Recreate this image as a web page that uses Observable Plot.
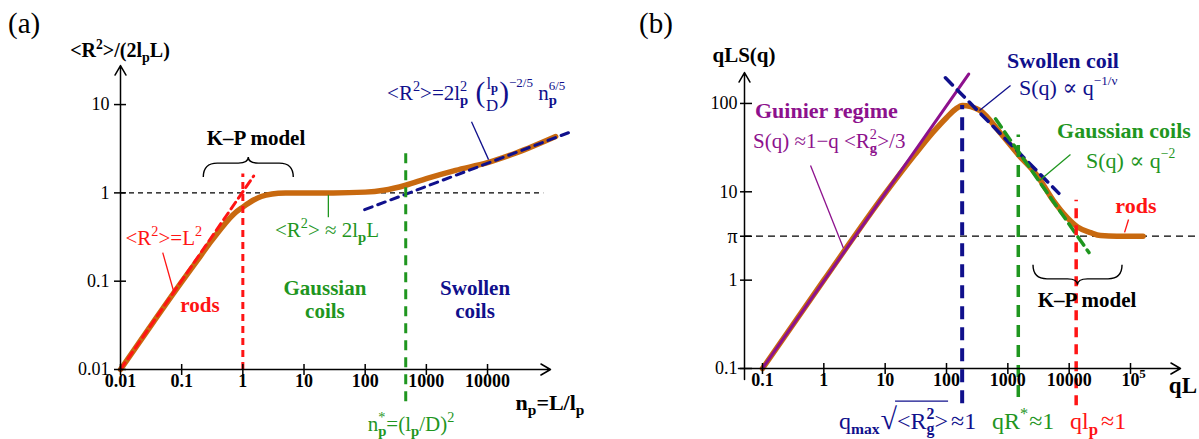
<!DOCTYPE html>
<html>
<head>
<meta charset="utf-8">
<script src="https://cdn.jsdelivr.net/npm/d3@7"></script>
<script src="https://cdn.jsdelivr.net/npm/@observablehq/plot@0.6"></script>
<style>
  body { margin: 0; background: #fff; }
  #fig { position: relative; width: 1199px; height: 439px; overflow: hidden; background: #fff; }
  #fig svg { position: absolute; top: 0; max-width: none; }
  #fig svg text { white-space: pre; font-family: "Liberation Serif", "Times New Roman", "DejaVu Serif", serif !important; }
</style>
</head>
<body>
<div id="fig"></div>
<script>
// ---------- (a) mean-square end-to-end distance vs contour length ----------
const nA   = [0.01, 0.03, 0.1, 0.2, 0.3, 0.5, 0.7, 1, 1.5, 2, 3, 5, 10, 30, 100, 200, 460, 1000, 3000, 10000, 30000, 130000];
const r2A  = [0.01, 0.03, 0.098, 0.19, 0.28, 0.44, 0.57, 0.69, 0.83, 0.91, 0.97, 0.995, 1.0, 1.0, 1.02, 1.07, 1.22, 1.45, 1.8, 2.2, 2.85, 4.35];
const rodN = [0.01, 1.5];          // <R²> = L²
const rodR2 = [0.01, 1.55];
const swN  = [98, 210000];         // <R²> ∝ n_p^{6/5}
const swR2 = [0.645, 4.8];
const plateauA = 1;                // <R²> ≈ 2 l_p L
const nRod = 1, nStar = 460;       // crossovers
const xTicksA = [0.01, 0.1, 1, 10, 100, 1000, 10000];
const xLabelsA = ["0.01", "0.1", "1", "10", "100", "1000", "10000"];
const yTicksA = [0.01, 0.1, 1, 10];
const yLabelsA = ["0.01", "0.1", "1", "10"];
const xDomA = [0.01, 1.07e5], yDomA = [0.01, 27.7];

// ---------- (b) Kratky-type representation qL·S(q) ----------
const qB = [0.1, 1, 10, 30, 60, 100, 140, 182, 250, 355, 760, 1500, 3000, 5560, 9300, 13700, 22400, 32500, 60000, 160000];
const sB = [0.1, 1, 9.6, 26, 47, 69, 86, 95, 92, 83, 46, 26, 15.3, 7.9, 5.1, 4.0, 3.45, 3.2, 3.14, 3.14];
const guinQ = [0.1, 230], guinS = [0.1, 215];
const swQ = [96, 6800], swS = [195, 9.6];
const gaQ = [630, 21000], gaS = [67, 2.05];
const qMax = 180, qStar = 1480, qRod = 13000;
const xTicksB = [0.1, 1, 10, 100, 1000, 10000, 100000];
const xLabelsB = ["0.1", "1", "10", "100", "1000", "10000", "10"];
const yTicksB = [0.1, 1, Math.PI, 10, 100];
const yLabelsB = ["0.1", "1", "π", "10", "100"];
const xDomB = [0.0509, 6.53e5], yDomB = [0.1, 224];

const FONT = '"Liberation Serif","Times New Roman",serif';
const ORANGE = "#c8690f", RED = "#ff1414", GREEN = "#1f961f", NAVY = "#10108c", PURPLE = "#8d118d";

const pts = (xs, ys) => xs.map((x, i) => ({x, y: ys[i]}));

function axisMarks(xTicks, xLabels, yTicks, yLabels, xDom, yDom, opt) {
  const tickFont = {fontFamily: FONT, fontWeight: "bold", fontSize: 18, fill: "black"};
  return [
    Plot.arrow([0], {x1: () => opt.xStart, x2: () => xDom[1], y1: () => yDom[0], y2: () => yDom[0],
      stroke: "black", strokeWidth: 1.5, headLength: 11, headAngle: 60}),
    Plot.arrow([0], {x1: () => xDom[0], x2: () => xDom[0], y1: () => opt.yStart, y2: () => yDom[1],
      stroke: "black", strokeWidth: 1.5, headLength: 11, headAngle: 60}),
    Plot.axisX({ticks: xTicks, tickSize: 11, dy: -5, tickFormat: () => "", label: null, strokeWidth: 1.5}),
    Plot.axisY({ticks: yTicks, tickSize: 12, dx: opt.ytdx, tickFormat: () => "", label: null, strokeWidth: 1.5}),
    Plot.text(xTicks, {x: d => d, frameAnchor: "bottom", dy: 17, text: (d, i) => xLabels[i], ...tickFont}),
    Plot.text(yTicks, {y: d => d, frameAnchor: "left", dx: opt.yldx, textAnchor: "end",
      text: (d, i) => yLabels[i], ...tickFont,
      fontSize: (d, i) => yLabels[i] === "π" ? 20 : 18,
      fontWeight: (d, i) => yLabels[i] === "π" ? "normal" : "bold"})
  ];
}

// ---------- panel (a) ----------
const plotA = Plot.plot({
  width: 600, height: 439,
  marginLeft: 120, marginRight: 50, marginTop: 65, marginBottom: 70,
  x: {type: "log", domain: xDomA},
  y: {type: "log", domain: yDomA},
  style: {overflow: "visible", background: "transparent"},
  marks: [
    Plot.ruleY([plateauA], {x1: () => xDomA[0], x2: () => 83000, stroke: "black", strokeWidth: 1.3, strokeDasharray: "5,4"}),
    Plot.line(pts(nA, r2A), {x: "x", y: "y", stroke: ORANGE, strokeWidth: 5.5, curve: "monotone-x"}),
    Plot.line(pts(rodN, rodR2), {x: "x", y: "y", stroke: RED, strokeWidth: 3, strokeDasharray: "8,5"}),
    Plot.line(pts(swN, swR2), {x: "x", y: "y", stroke: NAVY, strokeWidth: 3, strokeDasharray: "8,6"}),
    Plot.ruleX([nRod], {y1: () => 0.01, y2: () => 1.64, stroke: RED, strokeWidth: 3, strokeDasharray: "7,5"}),
    Plot.ruleX([nStar], {y1: () => 0.0043, y2: () => 2.9, stroke: GREEN, strokeWidth: 3, strokeDasharray: "10,7"}),
    // leader lines
    Plot.link([0], {x1: () => 0.049, y1: () => 0.211, x2: () => 0.0735, y2: () => 0.078, stroke: RED, strokeWidth: 1.3}),
    Plot.link([0], {x1: () => 25, y1: () => 0.95, x2: () => 25, y2: () => 0.53, stroke: GREEN, strokeWidth: 1.3}),
    Plot.link([0], {x1: () => 5470, y1: () => 6.4, x2: () => 10400, y2: () => 2.38, stroke: NAVY, strokeWidth: 1.3}),
    ...axisMarks(xTicksA, xLabelsA, yTicksA, yLabelsA, xDomA, yDomA, {xStart: 0.0093, yStart: 0.01, ytdx: 6, yldx: -11})
  ]
});

// ---------- panel (b) ----------
const plotB = Plot.plot({
  width: 599, height: 439,
  marginLeft: 144, marginRight: 19, marginTop: 72, marginBottom: 71,
  x: {type: "log", domain: xDomB},
  y: {type: "log", domain: yDomB},
  style: {overflow: "visible", background: "transparent"},
  marks: [
    Plot.ruleY([Math.PI], {x1: () => xDomB[0], x2: () => 1.4e6, stroke: "black", strokeWidth: 1.3, strokeDasharray: "7,5"}),
    Plot.line(pts(qB, sB), {x: "x", y: "y", stroke: ORANGE, strokeWidth: 5.5, curve: "monotone-x"}),
    Plot.line(pts(guinQ, guinS), {x: "x", y: "y", stroke: PURPLE, strokeWidth: 3}),
    Plot.line(pts(swQ, swS), {x: "x", y: "y", stroke: NAVY, strokeWidth: 3.5, strokeDasharray: "10,7"}),
    Plot.line(pts(gaQ, gaS), {x: "x", y: "y", stroke: GREEN, strokeWidth: 3.5, strokeDasharray: "10,6"}),
    Plot.ruleX([qMax], {y1: () => 0.04, y2: () => 95, stroke: NAVY, strokeWidth: 4, strokeDasharray: "13,8"}),
    Plot.ruleX([qStar], {y1: () => 0.047, y2: () => 44, stroke: GREEN, strokeWidth: 3.5, strokeDasharray: "12,8"}),
    Plot.ruleX([qRod], {y1: () => 0.038, y2: () => 8, stroke: RED, strokeWidth: 3.5, strokeDasharray: "10,7"}),
    // leader lines
    Plot.link([0], {x1: () => 0.607, y1: () => 19.9, x2: () => 2.09, y2: () => 2.29, stroke: PURPLE, strokeWidth: 1.3}),
    Plot.link([0], {x1: () => 1106, y1: () => 160, x2: () => 345, y2: () => 83.4, stroke: NAVY, strokeWidth: 1.3}),
    Plot.link([0], {x1: () => 10500, y1: () => 26.5, x2: () => 3290, y2: () => 13.4, stroke: GREEN, strokeWidth: 1.3}),
    Plot.link([0], {x1: () => 92900, y1: () => 4.86, x2: () => 80000, y2: () => 3.47, stroke: RED, strokeWidth: 1.3}),
    ...axisMarks(xTicksB, xLabelsB, yTicksB, yLabelsB, xDomB, yDomB, {xStart: 0.0406, yStart: 0.075, ytdx: 8, yldx: -7}),
    Plot.text([100000], {x: d => d, frameAnchor: "bottom", dx: 12, dy: 9, text: () => "5", fontFamily: FONT, fontWeight: "bold", fontSize: 13, fill: "black"})
  ]
});

const fig = document.getElementById("fig");
plotA.style.left = "0px";
plotB.style.left = "600px";
fig.append(plotA, plotB);

// ---------- rich text: runs of normal / raised / lowered / stacked pieces ----------
function rich(svg, x, y, segs, {anchor = "start", size = 20, fill = "black", weight = "normal"} = {}) {
  const sx = svg.scale("x"), sy = svg.scale("y");
  const px = sx.apply(x), py = sy.apply(y);
  const g = d3.select(svg).append("g").attr("font-family", FONT).attr("fill", fill).attr("text-anchor", "start");
  let cursor = 0, lastStart = 0;
  const overs = [];
  for (const s of segs) {
    const seg = typeof s === "string" ? {t: s} : s;
    const fs = size * (seg.s ?? 1);
    const start = (seg.stack ? lastStart : cursor) + (seg.dx ?? 0);
    const t = g.append("text")
      .attr("x", start).attr("y", -(seg.up ?? 0) * size)
      .attr("font-size", fs).attr("font-weight", seg.w ?? weight)
      .attr("text-anchor", "start")
      .text(seg.t);
    const w = t.node().getComputedTextLength();
    const end = start + w;
    if (seg.over) overs.push([start, end]);
    if (seg.stack) cursor = Math.max(cursor, end);
    else { lastStart = start; cursor = end; }
  }
  if (overs.length) {
    const a = d3.min(overs, d => d[0]), b = d3.max(overs, d => d[1]);
    g.append("line").attr("x1", a - 2).attr("x2", b).attr("y1", -1.15 * size).attr("y2", -1.15 * size)
      .attr("stroke", fill).attr("stroke-width", 1.3);
  }
  const off = anchor === "middle" ? -cursor / 2 : anchor === "end" ? -cursor : 0;
  g.attr("transform", `translate(${px + off},${py})`);
}

function brace(svg, xa, xb, y, dir) {
  const sx = svg.scale("x"), sy = svg.scale("y");
  const x1 = sx.apply(xa), x2 = sx.apply(xb), y0 = sy.apply(y), xm = (x1 + x2) / 2;
  const f = d => y0 + dir * d;
  const p = `M${x1},${y0} C${x1},${f(9)} ${x1 + 5},${f(14)} ${x1 + 14},${f(14)} L${xm - 10},${f(14)} ` +
    `C${xm - 4},${f(14)} ${xm},${f(16)} ${xm},${f(20)} C${xm},${f(16)} ${xm + 4},${f(14)} ${xm + 10},${f(14)} ` +
    `L${x2 - 14},${f(14)} C${x2 - 5},${f(14)} ${x2},${f(9)} ${x2},${y0}`;
  d3.select(svg).append("path").attr("d", p).attr("fill", "none").attr("stroke", "black").attr("stroke-width", 1.4);
}

function panelLabel(svg, x, y, label) {
  d3.select(svg).append("text").attr("x", x).attr("y", y).attr("font-family", FONT)
    .attr("text-anchor", "start").attr("font-size", 29).attr("fill", "black").text(label);
}

const sup = (t, o = {}) => ({t, up: 0.42, s: 0.68, ...o});
const sub = (t, o = {}) => ({t, up: -0.24, s: 0.7, ...o});

// ---- (a) annotations ----
panelLabel(plotA, 8, 33, "(a)");
rich(plotA, 0.01, 34, ["<R", sup("2"), ">/(2l", sub("p"), "L)"], {anchor: "middle", size: 20, weight: "bold"});
rich(plotA, 1.67, 3.44, ["K–P model"], {anchor: "middle", size: 21, weight: "bold"});
brace(plotA, 0.23, 6.8, 1.49, -1);
rich(plotA, 0.052, 0.254, ["<R", sup("2"), ">=L", sup("2")], {anchor: "middle", size: 21, fill: RED});
rich(plotA, 0.203, 0.044, ["rods"], {anchor: "middle", size: 21, fill: RED, weight: "bold"});
rich(plotA, 24.2, 0.312, ["<R", sup("2"), "> ≈ 2l", sub("p", {w: "bold"}), "L"], {anchor: "middle", size: 21, fill: GREEN});
rich(plotA, 22.4, 0.069, ["Gaussian"], {anchor: "middle", size: 21, fill: GREEN, weight: "bold"});
rich(plotA, 22.4, 0.0378, ["coils"], {anchor: "middle", size: 21, fill: GREEN, weight: "bold"});
rich(plotA, 6370, 0.069, ["Swollen"], {anchor: "middle", size: 21, fill: NAVY, weight: "bold"});
rich(plotA, 6370, 0.0378, ["coils"], {anchor: "middle", size: 21, fill: NAVY, weight: "bold"});
rich(plotA, 232, 11.1, [
  "<R", sup("2"), ">=2l", sup("2"), sub("p", {stack: true, w: "bold"}),
  {t: " (", s: 1.4, up: -0.08},
  {t: "l", up: 0.52, s: 0.8, dx: 1}, {t: "p", up: 0.4, s: 0.6, w: "bold"},
  {t: "D", up: -0.52, s: 0.8, stack: true, dx: -5},
  {t: ")", s: 1.4, up: -0.08, dx: 1}, {t: "−2/5", up: 0.6, s: 0.62},
  " n", {t: "6/5", up: 0.5, s: 0.62}, {t: "p", up: -0.22, s: 0.7, w: "bold", stack: true}
], {size: 21, fill: NAVY});
rich(plotA, 572, 0.00199, ["n", sup("*"), sub("p", {stack: true, w: "bold"}), "=(l", sub("p", {w: "bold"}), "/D)", sup("2")], {anchor: "middle", size: 21, fill: GREEN});
rich(plotA, 1.07e5, 0.00343, ["n", sub("p"), "=L/l", sub("p")], {anchor: "middle", size: 22, weight: "bold"});

// ---- (b) annotations ----
panelLabel(plotB, 39, 33, "(b)");
rich(plotB, xDomB[0], 291, ["qLS(q)"], {anchor: "middle", size: 21, weight: "bold"});
rich(plotB, 0.0769, 67.6, ["Guinier regime"], {size: 22, fill: PURPLE, weight: "bold"});
rich(plotB, 0.0713, 31, ["S(q) ≈1−q <R", sup("2"), sub("g", {stack: true, w: "bold"}), ">/3"], {size: 21, fill: PURPLE});
rich(plotB, 989, 249, ["Swollen coil"], {size: 22, fill: NAVY, weight: "bold"});
rich(plotB, 1550, 123, ["S(q) ∝ q", {t: "−1/ν", up: 0.45, s: 0.6}], {size: 22, fill: NAVY});
rich(plotB, 6460, 40.2, ["Gaussian coils"], {size: 22, fill: GREEN, weight: "bold"});
rich(plotB, 19200, 18.4, ["S(q) ∝ q", {t: "−2", up: 0.45, s: 0.62}], {size: 22, fill: GREEN});
rich(plotB, 1.25e5, 5.69, ["rods"], {anchor: "middle", size: 22, fill: RED, weight: "bold"});
brace(plotB, 2620, 74100, 1.47, 1);
rich(plotB, 19900, 0.49, ["K–P model"], {anchor: "middle", size: 21, weight: "bold"});
rich(plotB, 4.3e5, 0.052, ["qL"], {size: 23, weight: "bold"});
rich(plotB, 1.8, 0.0205, [
  "q", {t: "max", up: -0.2, s: 0.65, w: "bold"},
  {t: "√", s: 1.25, dx: 1},
  {t: "<R", over: true}, {t: "2", up: 0.42, s: 0.66, w: "bold", over: true},
  {t: "g", up: -0.22, s: 0.66, w: "bold", stack: true, over: true}, {t: ">", over: true},
  {t: "≈1", dx: 3}
], {size: 24, fill: NAVY});
rich(plotB, 562, 0.0205, ["qR", sup("*"), {t: "≈1", dx: 1}], {size: 24, fill: GREEN});
rich(plotB, 10500, 0.0205, ["ql", sub("p", {w: "bold"}), {t: "≈1", dx: 3}], {size: 24, fill: RED});
</script>
</body>
</html>
